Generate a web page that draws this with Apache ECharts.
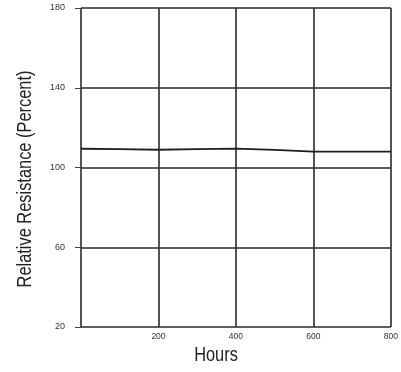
<!DOCTYPE html>
<html>
<head>
<meta charset="utf-8">
<script src="https://cdn.jsdelivr.net/npm/echarts@6/dist/echarts.min.js"></script>
<style>
html,body{margin:0;padding:0;background:#fff;}
#c{width:401px;height:372px;}
</style>
</head>
<body>
<div id="c"></div>
<script>
var hours = [0, 100, 200, 300, 400, 500, 600, 700, 800];
var resistance = [109.4, 109.2, 108.9, 109.2, 109.5, 108.8, 108.0, 108.0, 108.0];
var xTicks = [0, 200, 400, 600, 800];
var yTicks = [20, 60, 100, 140, 180];
var xTitle = 'Hours';
var yTitle = 'Relative Resistance (Percent)';

var chart = echarts.init(document.getElementById('c'), null, {renderer: 'canvas'});
var gridColor = '#2a2a2a';
var sans = '"Liberation Sans", Arial, sans-serif';
chart.setOption({
  animation: false,
  backgroundColor: '#fff',
  grid: {left: 81, right: 7, top: 8, bottom: 45, containLabel: false},
  xAxis: {
    type: 'value',
    min: xTicks[0], max: xTicks[xTicks.length - 1], interval: 200,
    axisLine: {show: false},
    axisTick: {show: false},
    splitLine: {show: true, lineStyle: {color: gridColor, width: 1.6}},
    axisLabel: {
      margin: 5, fontSize: 8.5, color: '#333', fontFamily: sans,
      formatter: function (v) { return v === 0 ? '' : String(v); }
    }
  },
  yAxis: {
    type: 'value',
    min: yTicks[0], max: yTicks[yTicks.length - 1], interval: 40,
    offset: 8,
    axisLine: {show: false},
    axisTick: {show: true, length: 6, lineStyle: {color: '#444', width: 1}},
    splitLine: {show: true, lineStyle: {color: gridColor, width: 1.6}},
    axisLabel: {margin: 8, fontSize: 9, color: '#333', fontFamily: sans}
  },
  graphic: [
    {
      type: 'text', x: 216, y: 355, scaleX: 0.82,
      style: {text: xTitle, fontSize: 20, fontFamily: sans, fill: '#222',
              align: 'center', verticalAlign: 'middle'}
    },
    {
      type: 'text', x: 25, y: 179, rotation: Math.PI / 2, scaleX: 0.82,
      style: {text: yTitle, fontSize: 20, fontFamily: sans, fill: '#222',
              align: 'center', verticalAlign: 'middle'}
    }
  ],
  series: [{
    type: 'line',
    data: hours.map(function (h, i) { return [h, resistance[i]]; }),
    showSymbol: false,
    lineStyle: {color: '#1e1e1e', width: 1.8},
    smooth: false
  }]
});
</script>
</body>
</html>
